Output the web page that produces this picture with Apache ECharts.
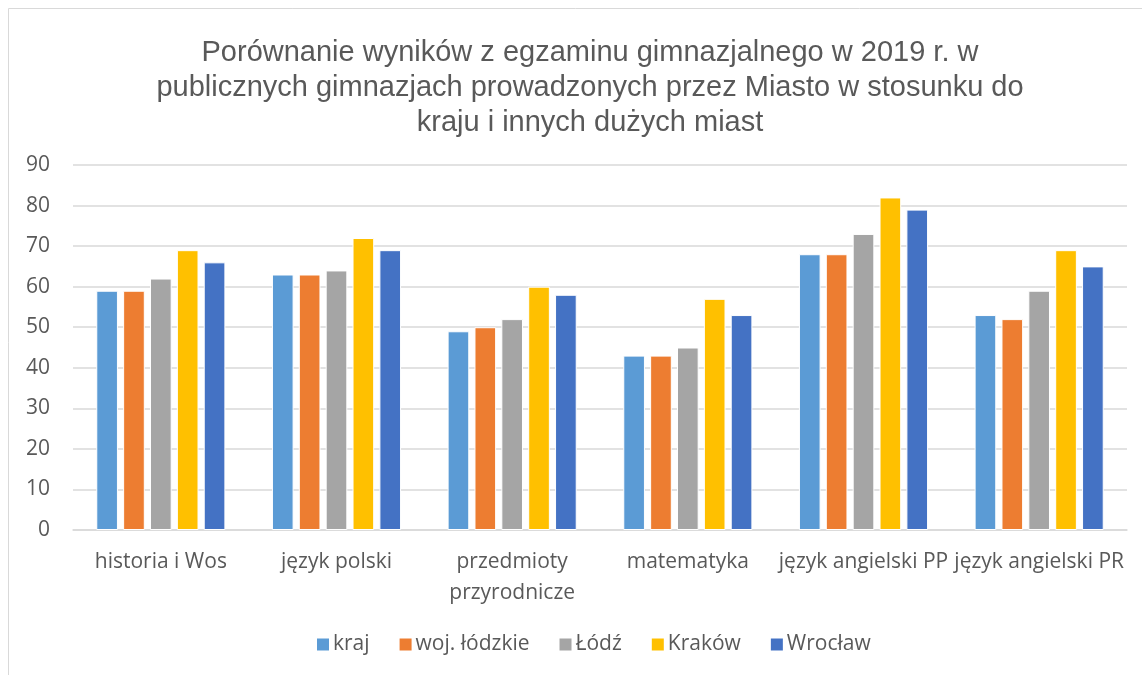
<!DOCTYPE html>
<html>
<head>
<meta charset="utf-8">
<script src="https://cdn.jsdelivr.net/npm/echarts@6/dist/echarts.min.js"></script>
<style>
  html, body { margin: 0; padding: 0; background: #fff; }
  #chart { width: 1142px; height: 675px; }
</style>
</head>
<body>
<div id="chart"></div>
<script>
  // data
  const categories = ['historia i Wos', 'język polski', 'przedmioty\nprzyrodnicze', 'matematyka', 'język angielski PP', 'język angielski PR']
  const seriesNames = ['kraj', 'woj. łódzkie', 'Łódź', 'Kraków', 'Wrocław']
  const kraj = [59, 63, 49, 43, 68, 53]
  const wojLodzkie = [59, 63, 50, 43, 68, 52]
  const lodz = [62, 64, 52, 45, 73, 59]
  const krakow = [69, 72, 60, 57, 82, 69]
  const wroclaw = [66, 69, 58, 53, 79, 65]
  const colors = ['#5b9bd5', '#ed7d31', '#a5a5a5', '#ffc000', '#4472c4']

  const font = '"Liberation Sans", "DejaVu Sans", sans-serif'
  const labelFont = '"Open Sans", "Noto Sans", sans-serif'
  const myChart = echarts.init(document.getElementById('chart'))
  const values = [kraj, wojLodzkie, lodz, krakow, wroclaw]

  const option = {
    animation: false,
    color: colors,
    title: {
      text: 'Porównanie wyników z egzaminu gimnazjalnego w 2019 r. w\npublicznych gimnazjach prowadzonych przez Miasto w stosunku do\nkraju i innych dużych miast',
      left: 585,
      textAlign: 'center',
      top: 30,
      textStyle: { fontFamily: font, fontSize: 29, fontWeight: 'normal', color: '#595959', lineHeight: 35 }
    },
    legend: {
      bottom: 15,
      left: 310,
      itemWidth: 14,
      itemHeight: 14,
      itemGap: 28,
      icon: 'rect',
      textStyle: { fontFamily: labelFont, fontSize: 21, color: '#595959', padding: [0, 0, 0, -2] },
      data: seriesNames
    },
    grid: { left: 73, right: 15, top: 165, bottom: 145 },
    xAxis: {
      type: 'category',
      data: categories,
      axisTick: { show: false },
      axisLine: { lineStyle: { color: '#d9d9d9', width: 1.5 } },
      axisLabel: { fontFamily: labelFont, fontSize: 21, color: '#595959', margin: 17, lineHeight: 31, interval: 0 }
    },
    yAxis: {
      type: 'value',
      min: 0,
      max: 90,
      interval: 10,
      axisLine: { show: false },
      axisTick: { show: false },
      splitLine: { lineStyle: { color: '#d9d9d9', width: 1.5 } },
      axisLabel: { fontFamily: labelFont, fontSize: 21, color: '#595959', margin: 23 }
    },
    graphic: [{
      type: 'rect',
      shape: { x: 8.5, y: 8.5, width: 1200, height: 700 },
      style: { fill: 'none', stroke: '#d9d9d9', lineWidth: 1 },
      silent: true
    }],
    series: seriesNames.map((name, i) => ({
      name: name,
      type: 'bar',
      data: values[i],
      barGap: '24%',
      barCategoryGap: '26.5%',
      itemStyle: { borderColor: '#fff', borderWidth: 1 }
    }))
  }
  myChart.setOption(option)
</script>
</body>
</html>
